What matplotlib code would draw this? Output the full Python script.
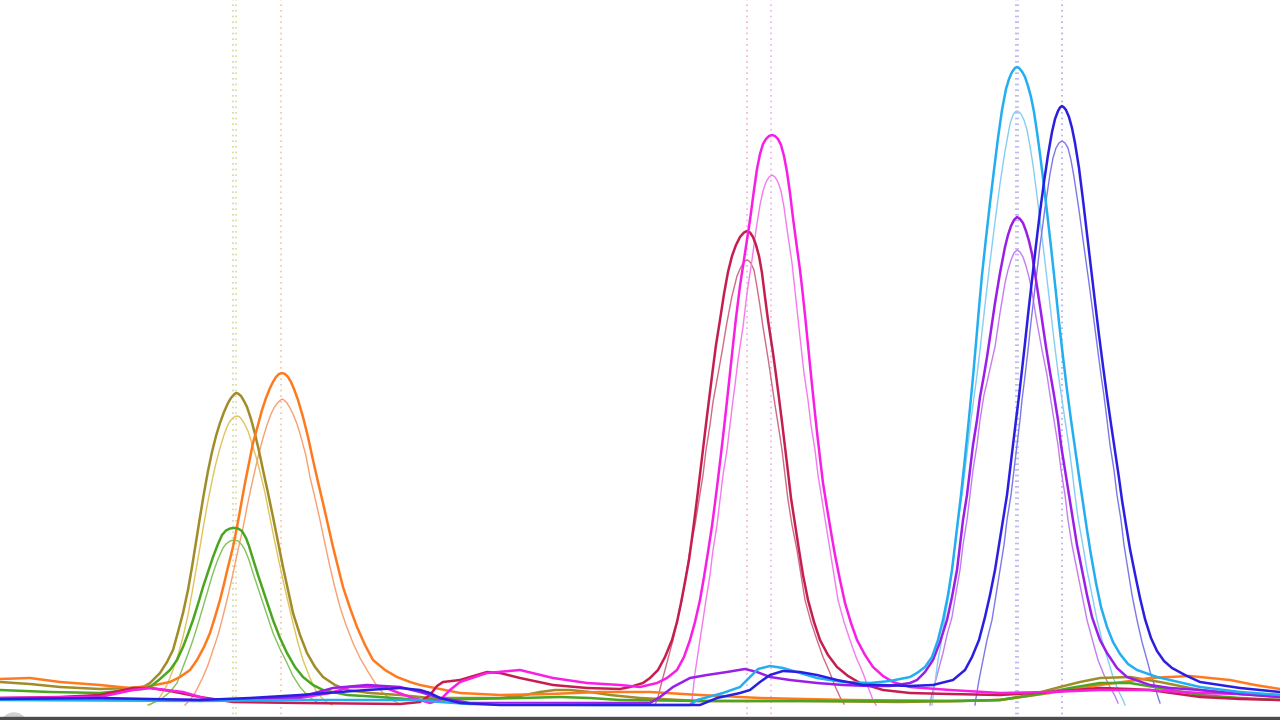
import numpy as np
import matplotlib.pyplot as plt
from matplotlib.patches import Rectangle, Circle

# chromatogram traces (x = scan position, y = pixel row, 0 at top)

olive = [(0,682),(30,684),(60,687),(100,689),(130,688),(143,687),(150,683),(160,673),(167,662),(173,650),
         (178,632),(183,613),(188,590),(192,567),(196,542),(200,517),(204,493),(208,471),(212,452),(216,436),
         (220,423),(224,412),(228,403),(231,398),(234,394.5),(236,393),(238,393.5),(241,396),(244,401),(247,407),
         (251,419),(255,434),(259,451),(263,470),(268,493),(273,517),(278,542),(283,567),(288,590),(293,613),
         (300,635),(307,653),(315,667),(323,677),(335,685),(347,690),(370,693),(400,695),(430,698),(470,698),
         (500,698),(520,696),(540,692),(555,690),(570,690),(590,692),(610,695),(640,698),(700,701),(800,701),
         (900,702),(960,701),(1000,700),(1030,695),(1060,687),(1080,682),(1100,678),(1130,677),(1160,682),
         (1200,690),(1240,694),(1280,697)]
olive_thin = [(150,705),(160,697),(167,685),(173,670),(178,655),(183,637),(188,615),(192,593),(196,570),(200,547),
              (204,523),(208,501),(212,481),(216,463),(220,448),(224,435),(227,427),(230,421),(233,418),(235,416.5),
              (237,416),(239,416.5),(241,418.5),(244,423),(248,431),(252,444),(257,460),(261,476),(265,493),(269,513),
              (273,533),(278,557),(283,580),(288,602),(293,623),(298,643),(303,660),(310,678),(317,693),(325,701),
              (332,705)]

orange = [(0,679),(30,678),(60,682),(100,685),(130,688),(150,686),(170,682),(180,677),(190,670),(197,660),
          (204,647),(210,633),(215,617),(220,600),(224,584),(228,567),(233,547),(237,527),(241,505),(245,483),
          (249,463),(253,443),(258,425),(262,410),(266,398),(270,388),(273,382),(276,377),(279,374),(282,373),
          (285,374),(288,377),(291,382),(294,389),(298,400),(303,417),(308,437),(313,460),(318,482),(323,503),
          (328,525),(333,547),(338,567),(343,587),(350,608),(357,627),(365,645),(373,660),(385,670),(397,677),
          (410,682),(420,685),(440,689),(460,693),(500,695),(550,694),(600,692),(650,692),(700,695),(760,698),
          (850,700),(950,701),(1000,700),(1050,693),(1100,685),(1130,681),(1150,678),(1190,676),(1230,680),
          (1255,685),(1280,689)]
orange_thin = [(185,705),(190,700),(195,693),(199,685),(203,677),(208,665),(213,650),(218,635),(222,620),(226,604),
               (230,587),(234,569),(238,550),(243,528),(247,507),(251,488),(255,470),(259,453),(263,438),(267,425),
               (271,414),(274,408),(277,403.5),(280,400.5),(282,399),(284,400),(287,403),(290,408),(293,414),(297,424),
               (301,437),(306,456),(310,477),(315,498),(320,520),(325,544),(330,567),(335,588),(340,607),(346,625),
               (353,643),(360,658),(367,670),(375,683),(383,693),(392,700),(400,704)]

green = [(0,690),(50,692),(100,693),(130,690),(143,689),(150,687),(160,679),(170,670),(177,660),(183,647),
         (188,634),(193,620),(198,604),(203,587),(208,572),(213,557),(218,544),(222,535),(226,530.5),(230,528.5),
         (234,528),(238,528.5),(242,531),(246,538),(249,546),(253,559),(258,575),(263,590),(268,605),(273,620),
         (280,638),(287,653),(295,667),(303,677),(313,685),(323,690),(347,695),(380,697),(420,700),(470,699),
         (520,698),(560,697),(590,698),(620,700),(700,701),(850,701),(960,701),(1000,700),(1040,694),(1070,688),
         (1100,683),(1130,683),(1160,688),(1200,695),(1240,698),(1280,700)]
green_thin = [(148,705),(160,700),(170,692),(177,683),(183,667),(188,654),(193,640),(198,624),(203,607),(208,590),
              (213,573),(218,559),(223,548),(226,544),(230,541),(234,540),(238,541),(242,545),(245,550),(249,560),
              (253,573),(258,588),(263,603),(268,618),(273,633),(280,649),(287,663),(293,676),(300,687),(308,696),
              (318,703)]

crimson = [(0,698),(60,697),(100,695),(133,688),(150,688),(170,691),(200,697),(233,702),(300,703),(400,704),
           (420,702),(430,695),(437,686),(443,682),(460,680),(487,672),(500,673),(520,678),(553,685),(587,688),
           (620,689),(630,687),(643,683),(650,678),(658,670),(665,657),(672,640),(677,622),(681,603),(685,582),
           (689,560),(692,538),(695,515),(698,491),(701,466),(704,441),(707,416),(710,392),(713,368),(716,345),
           (720,320),(724,294),(728,272),(732,256),(736,245),(740,237),(744,232.5),(747,231),(750,232.5),
           (753,237),(756,245),(759,256),(762,273),(765,297),(768,320),(773,353),(776,375),(779,398),(782,422),
           (785,447),(788,472),(791,498),(795,524),(799,550),(803,575),(808,600),(814,622),(820,640),(828,655),
           (837,667),(848,676),(860,683),(883,690),(910,693),(950,694),(1000,695),(1050,692),(1100,688),
           (1130,689),(1150,690),(1200,697),(1240,699),(1280,700)]
crimson_thin = [(655,705),(658,697),(661,685),(665,670),(669,655),(673,640),(677,622),(682,600),(686,575),(690,550),
                (695,525),(699,500),(703,475),(706,450),(710,425),(713,402),(717,380),(722,352),(727,322),(732,296),
                (737,276),(740,269),(743,263.5),(745,261),(747,260),(749,261),(751,263.5),(754,270),(757,287),
                (760,306),(763,327),(768,358),(772,385),(775,405),(779,430),(782,450),(785,475),(788,500),(792,525),
                (797,550),(801,575),(805,600),(811,622),(817,640),(823,657),(830,673),(835,686),(840,697),(844,704)]

magenta = [(0,698),(100,697),(133,690),(150,688),(183,692),(207,699),(233,700),(300,698),(330,693),(350,687),
           (383,687),(410,697),(430,703),(440,700),(450,690),(460,682),(487,673),(520,670),(553,678),(587,683),
           (620,685),(640,687),(657,683),(667,678),(677,670),(684,657),(690,640),(695,622),(700,600),(704,577),
           (708,552),(712,526),(715,503),(718,479),(721,454),(724,428),(727,401),(730,373),(733,345),(736,318),
           (740,286),(745,253),(750,220),(754,190),(757,169),(760,154),(763,144),(766,139),(769,136),(772,135),
           (775,136),(778,139),(781,145),(784,156),(787,172),(790,193),(793,218),(797,248),(800,270),(802,287),
           (805,315),(808,345),(811,375),(814,404),(817,432),(820,458),(823,483),(827,508),(831,532),(835,555),
           (840,580),(845,603),(851,623),(857,640),(865,655),(873,667),(883,676),(893,682),(910,687),(950,690),
           (1000,693),(1050,692),(1100,690),(1150,690),(1200,693),(1280,695)]
magenta_thin = [(690,705),(692,700),(695,673),(700,640),(703,620),(706,600),(710,575),(713,550),(717,525),(720,500),
                (723,475),(727,450),(730,425),(733,400),(735,385),(738,360),(743,327),(747,293),(752,260),(756,230),
                (760,205),(763,191),(766,182),(769,177),(772,175),(775,177),(778,182),(781,191),(784,207),(787,229),
                (792,263),(796,300),(800,337),(804,373),(808,400),(811,425),(815,450),(818,475),(822,500),(826,525),
                (830,550),(834,575),(838,600),(844,622),(850,640),(856,657),(863,673),(868,687),(873,700),(876,705)]

purple = [(0,699),(100,699),(200,700),(250,699),(300,697),(333,688),(367,685),(400,687),(420,692),(440,698),
          (470,703),(550,703),(650,703),(660,697),(673,687),(690,678),(707,675),(727,672),(745,669),(757,672),
          (770,677),(790,680),(817,683),(843,685),(870,686),(890,686),(910,683),(917,680),(925,672),(933,660),
          (940,642),(947,620),(952,597),(957,570),(960,545),(963,520),(967,495),(970,470),(973,445),(977,420),
          (980,397),(984,375),(987,357),(990,337),(995,303),(1000,273),(1005,247),(1008,235),(1011,226),
          (1014,220),(1017,217),(1020,219),(1023,223),(1026,231),(1029,241),(1032,254),(1036,280),(1041,313),
          (1046,347),(1050,372),(1054,395),(1058,420),(1061,445),(1065,470),(1069,495),(1073,520),(1077,545),
          (1082,570),(1087,595),(1092,617),(1100,640),(1107,653),(1117,668),(1127,677),(1150,685),(1170,688),
          (1200,690),(1240,694),(1280,697)]
purple_thin = [(930,705),(931,698),(935,683),(939,668),(943,653),(947,635),(952,617),(956,593),(960,570),(963,545),
               (967,520),(970,495),(973,470),(977,445),(980,420),(984,395),(988,378),(992,360),(995,347),(1000,313),
               (1005,283),(1008,270),(1011,260),(1014,253),(1017,250),(1020,252),(1023,257),(1026,266),(1029,277),
               (1032,292),(1036,317),(1042,350),(1047,375),(1050,395),(1054,420),(1058,445),(1061,470),(1065,495),
               (1068,520),(1072,545),(1077,570),(1082,595),(1087,620),(1093,642),(1098,660),(1104,675),(1110,687),
               (1115,696),(1118,703)]

cyan = [(0,700),(200,701),(300,700),(420,700),(440,702),(470,704),(600,705),(690,705),(697,700),(723,693),
        (740,687),(750,677),(758,669),(770,666),(783,668),(800,673),(817,678),(843,682),(870,683),(890,681),
        (910,677),(917,673),(925,667),(932,657),(938,640),(943,620),(948,595),(952,570),(955,545),(958,520),
        (961,495),(964,467),(967,438),(970,408),(973,377),(976,343),(979,308),(982,275),(986,238),(990,203),
        (994,170),(998,138),(1002,110),(1006,89),(1009,79),(1012,72),(1015,68),(1017,67),(1019,68),(1022,71.5),
        (1025,77),(1028,86),(1031,97),(1034,112),(1037,132),(1040,154),(1043,178),(1047,212),(1051,247),
        (1055,284),(1059,322),(1063,357),(1067,390),(1071,420),(1075,448),(1079,476),(1083,503),(1087,530),
        (1091,555),(1096,583),(1101,607),(1107,627),(1113,642),(1120,654),(1128,664),(1137,670),(1157,677),
        (1170,680),(1200,687),(1240,692),(1280,695)]
cyan_thin = [(932,705),(934,690),(938,660),(942,638),(945,617),(949,593),(952,570),(955,545),(958,521),(962,495),
             (965,470),(968,445),(971,420),(974,397),(977,375),(980,350),(983,323),(986,296),(990,262),(995,222),
             (1000,184),(1005,151),(1010,124),(1013,115),(1015,112),(1017,111),(1019,112),(1021,114),(1024,120),
             (1027,130),(1030,146),(1033,165),(1036,188),(1040,220),(1045,262),(1050,305),(1054,340),(1058,372),
             (1062,400),(1065,420),(1069,447),(1072,470),(1075,495),(1078,518),(1083,546),(1087,570),(1092,595),
             (1097,620),(1102,640),(1108,660),(1113,677),(1118,690),(1123,700),(1125,705)]

blue = [(0,699),(100,698),(200,700),(250,698),(300,695),(367,690),(400,688),(420,690),(430,693),(440,698),
        (460,703),(500,705),(600,705),(700,705),(717,698),(740,693),(750,690),(760,682),(770,675),(783,671),
        (800,672),(817,675),(837,680),(863,685),(880,685),(910,686),(933,685),(953,680),(965,670),(972,657),
        (979,640),(985,617),(990,595),(995,570),(999,545),(1003,520),(1007,495),(1010,470),(1013,445),(1016,420),
        (1019,396),(1022,370),(1025,343),(1028,315),(1032,280),(1036,245),(1040,212),(1044,182),(1048,155),
        (1052,132),(1055,119),(1058,111),(1060,107.5),(1062,106),(1064,107.5),(1066,110),(1069,117),(1072,128),
        (1075,143),(1079,168),(1083,200),(1087,234),(1091,268),(1095,302),(1099,335),(1103,366),(1107,396),
        (1111,424),(1115,451),(1119,478),(1122,500),(1126,525),(1130,549),(1135,574),(1140,598),(1145,619),
        (1151,638),(1157,651),(1164,661),(1172,668),(1185,675),(1200,682),(1240,688),(1280,692)]
blue_thin = [(975,705),(976,698),(979,680),(983,660),(987,640),(992,620),(996,595),(1000,570),(1004,545),(1007,520),
             (1011,495),(1014,470),(1017,445),(1020,420),(1022,400),(1025,376),(1028,350),(1031,322),(1035,288),
             (1040,246),(1045,208),(1050,174),(1053,158),(1056,148),(1059,143),(1062,141),(1065,143),(1068,148),
             (1071,160),(1074,177),(1079,210),(1084,247),(1089,283),(1094,321),(1098,352),(1101,375),(1104,396),
             (1107,420),(1110,445),(1114,470),(1117,495),(1121,520),(1124,545),(1128,570),(1132,595),(1137,620),
             (1142,642),(1147,660),(1151,675),(1155,687),(1158,697),(1160,703)]

# peak apex markers
marker_x = [233, 236, 281, 747, 771, 1016, 1018, 1062]
marker_colors = ['#c8dc98', '#e4d890', '#f8c0a8', '#f0b0d8', '#f0b0e8', '#b8a8f0', '#a8b8f0', '#b0a8f0']

thick = [(olive, '#a08c28'), (orange, '#ff7a1e'), (green, '#4aa61e'), (crimson, '#c41e50'),
         (magenta, '#f81ee6'), (purple, '#9a1ee8'), (cyan, '#22aef0'), (blue, '#2a1ee0')]
thin = [(olive_thin, '#e0c45a'), (orange_thin, '#f8a070'), (green_thin, '#82c25a'), (crimson_thin, '#d06a84'),
        (magenta_thin, '#f47af0'), (purple_thin, '#c47cf0'), (cyan_thin, '#84cef4'), (blue_thin, '#7c78e8')]

fig = plt.figure(figsize=(12.8, 7.2), dpi=100)
ax = fig.add_axes([0, 0, 1, 1])

for xm, c in zip(marker_x, marker_colors):
    ax.axvline(xm, color=c, lw=1.2, dashes=(1, 2.4), zorder=1)

for pts, c in thin:
    xs, ys = zip(*pts)
    ax.plot(xs, ys, color=c, lw=1.0, zorder=2, solid_joinstyle='round')

for pts, c in thick:
    xs, ys = zip(*pts)
    ax.plot(xs, ys, color=c, lw=1.8, zorder=3, solid_joinstyle='round')

# window chrome at the bottom edge
ax.add_patch(Rectangle((0, 716.5), 1280, 4, color='#4c4c4c', zorder=5))
ax.add_patch(Circle((14, 726), 13, color='#d0d0d0', zorder=4))

ax.set_xlim(0, 1280)
ax.set_ylim(720, 0)
ax.axis('off')

fig.savefig('out.png', dpi=100, facecolor='white')
